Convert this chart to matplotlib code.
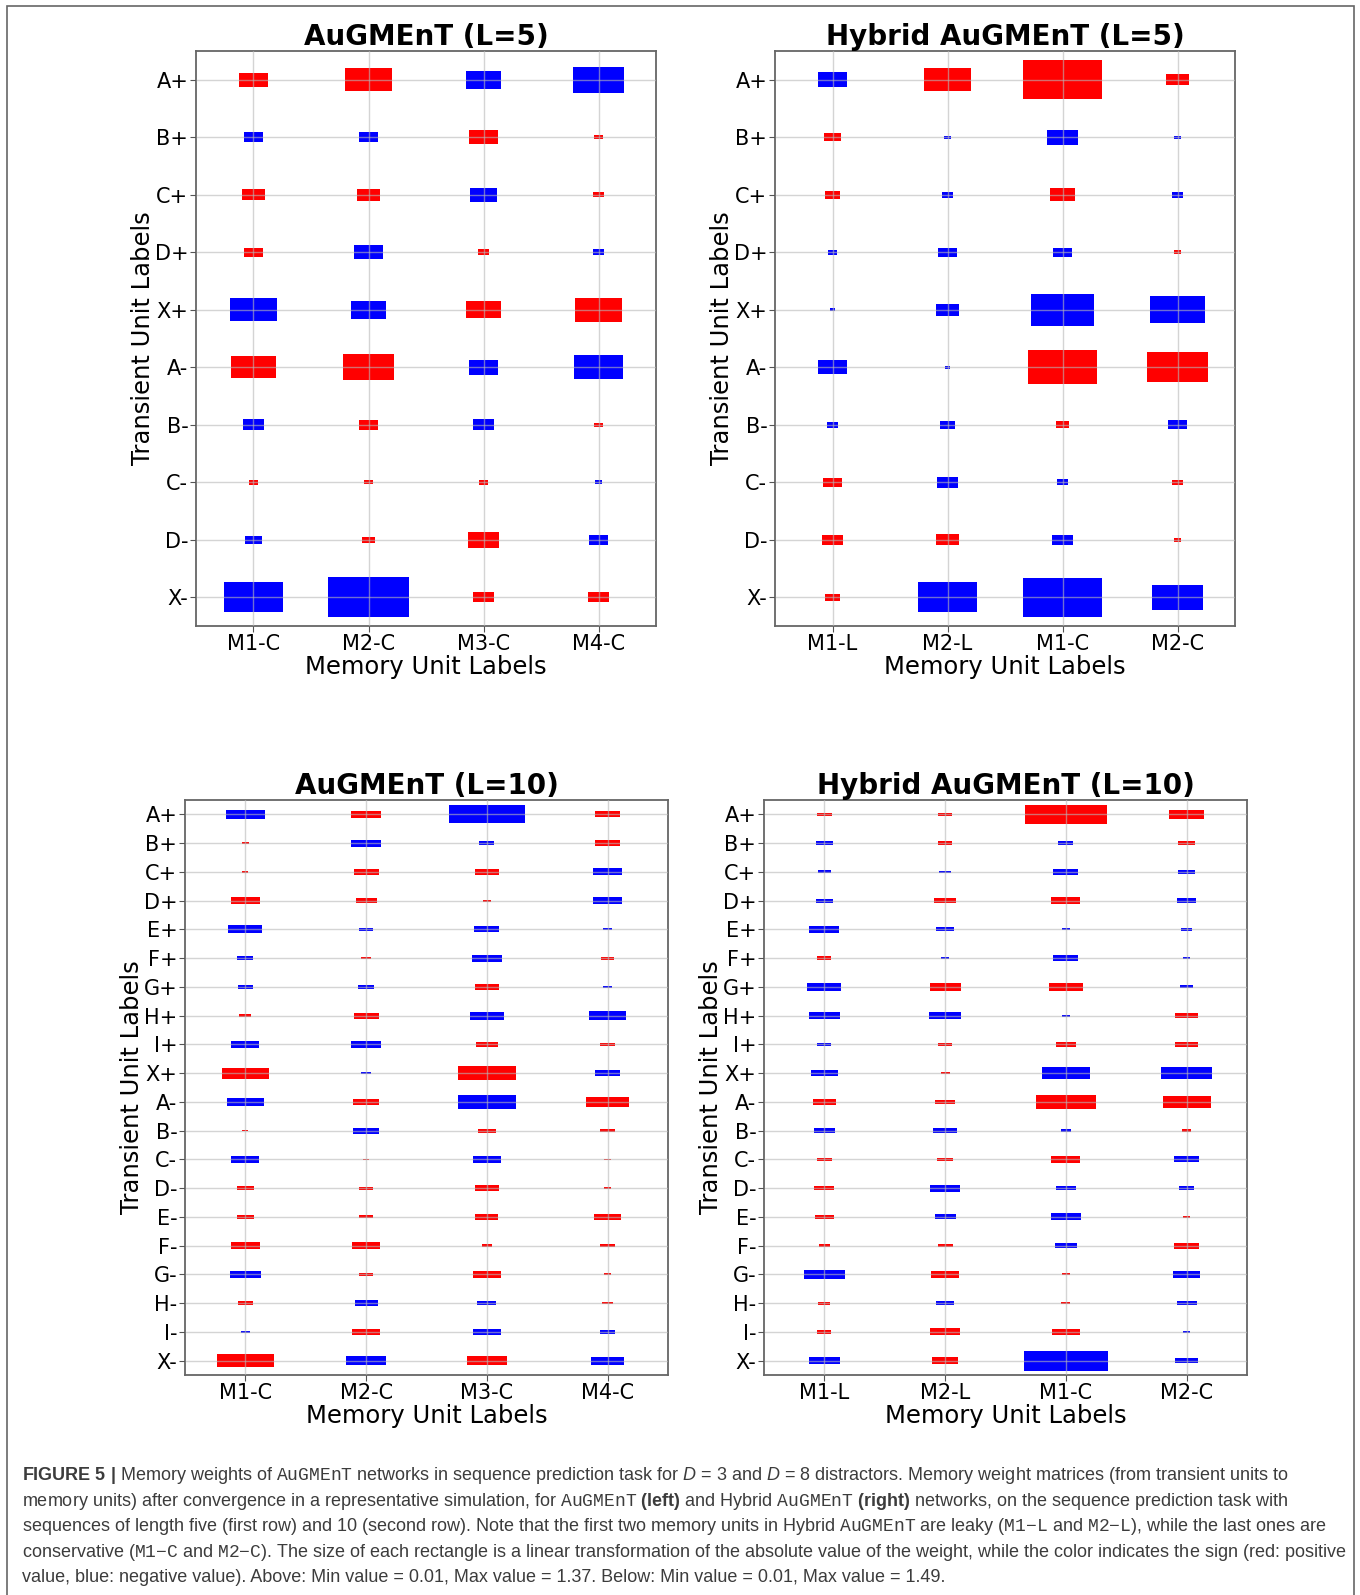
import matplotlib
import matplotlib.pyplot as plt
from matplotlib.patches import Rectangle

matplotlib.use("agg")

ROWS_5 = ["A+", "B+", "C+", "D+", "X+", "A-", "B-", "C-", "D-", "X-"]
ROWS_10 = ["A+", "B+", "C+", "D+", "E+", "F+", "G+", "H+", "I+", "X+",
           "A-", "B-", "C-", "D-", "E-", "F-", "G-", "H-", "I-", "X-"]
COLS_AUG = ["M1-C", "M2-C", "M3-C", "M4-C"]
COLS_HYB = ["M1-L", "M2-L", "M1-C", "M2-C"]

# signed weights (red > 0, blue < 0)
W_AUG_5 = [
    [0.42, 0.76, -0.56, -0.84],
    [-0.26, -0.26, 0.42, 0.06],
    [0.32, 0.33, -0.41, 0.09],
    [0.24, -0.43, 0.11, -0.11],
    [-0.75, -0.55, 0.54, 0.77],
    [0.72, 0.85, -0.45, -0.78],
    [-0.29, 0.26, -0.30, 0.06],
    [0.08, 0.06, 0.08, -0.04],
    [-0.20, 0.14, 0.47, -0.26],
    [-0.99, -1.37, 0.27, 0.27],
]
W_HYB_5 = [
    [-0.45, 0.75, 1.33, 0.32],
    [0.21, -0.02, -0.46, -0.02],
    [0.18, -0.12, 0.37, -0.12],
    [-0.07, -0.24, -0.24, 0.05],
    [-0.01, -0.34, -1.06, -0.89],
    [-0.43, -0.01, 1.16, 1.01],
    [-0.11, -0.18, 0.15, -0.24],
    [0.24, -0.30, -0.11, 0.10],
    [0.27, 0.31, -0.28, 0.05],
    [0.17, -0.98, -1.33, -0.82],
]
W_AUG_10 = [
    [-0.62, 0.46, -1.34, 0.38],
    [0.02, -0.46, -0.18, 0.37],
    [0.01, 0.37, 0.35, -0.45],
    [0.43, 0.29, 0.04, -0.43],
    [-0.54, -0.15, -0.37, -0.07],
    [-0.20, 0.09, -0.46, 0.15],
    [-0.17, -0.21, 0.35, -0.08],
    [0.12, 0.37, -0.53, -0.60],
    [-0.42, -0.46, 0.31, 0.19],
    [0.77, -0.09, 0.98, -0.38],
    [-0.58, 0.39, -0.99, 0.72],
    [0.01, -0.38, 0.23, 0.19],
    [-0.42, 0.02, -0.42, 0.02],
    [0.22, 0.15, 0.34, 0.03],
    [0.23, 0.15, 0.33, 0.40],
    [0.44, 0.42, 0.09, 0.17],
    [-0.47, 0.15, 0.42, 0.04],
    [0.17, -0.33, -0.25, 0.09],
    [-0.08, 0.41, -0.42, -0.19],
    [0.97, -0.66, 0.64, -0.52],
]
W_HYB_10 = [
    [0.19, 0.16, 1.44, 0.55],
    [-0.21, 0.16, -0.18, 0.21],
    [-0.13, -0.11, -0.37, -0.21],
    [-0.21, 0.32, 0.44, -0.25],
    [-0.46, -0.23, -0.06, -0.10],
    [0.16, -0.06, -0.37, -0.03],
    [-0.54, 0.48, 0.53, -0.13],
    [-0.48, -0.49, -0.06, 0.34],
    [-0.16, 0.16, 0.27, 0.34],
    [-0.40, 0.07, -0.81, -0.85],
    [0.33, 0.27, 1.04, 0.80],
    [-0.29, -0.34, -0.09, 0.08],
    [0.17, 0.19, 0.44, -0.36],
    [0.27, -0.47, -0.27, -0.17],
    [0.26, -0.29, -0.47, 0.03],
    [0.11, 0.18, -0.32, 0.38],
    [-0.66, 0.41, 0.06, -0.40],
    [0.12, -0.24, 0.07, -0.27],
    [0.16, 0.45, 0.41, -0.03],
    [-0.49, 0.40, -1.49, -0.32],
]
W_MIN = 0.01
W_MAX_5 = 1.37
W_MAX_10 = 1.49

CAPTION = [
    r"$\mathbf{FIGURE\ 5\ |}$ Memory weights of $\mathtt{AuGMEnT}$ networks in sequence "
    r"prediction task for $D$ = 3 and $D$ = 8 distractors. Memory weight matrices (from transient units to",
    r"memory units) after convergence in a representative simulation, for $\mathtt{AuGMEnT}$ "
    r"$\mathbf{(left)}$ and Hybrid $\mathtt{AuGMEnT}$ $\mathbf{(right)}$ networks, on the sequence prediction task with",
    r"sequences of length five (first row) and 10 (second row). Note that the first two memory units in "
    r"Hybrid $\mathtt{AuGMEnT}$ are leaky ($\mathtt{M1{-}L}$ and $\mathtt{M2{-}L}$), while the last ones are",
    r"conservative ($\mathtt{M1{-}C}$ and $\mathtt{M2{-}C}$). The size of each rectangle is a linear "
    r"transformation of the absolute value of the weight, while the color indicates the sign (red: positive",
    r"value, blue: negative value). Above: Min value = 0.01, Max value = 1.37. "
    r"Below: Min value = 0.01, Max value = 1.49.",
]

POS, NEG = "#ff0000", "#0000ff"
SIDE_MIN, SIDE_MAX = 0.05, 0.70
W_PX, H_PX = 1360, 1595


def plot_weights(ax, weights, rows, cols, w_max, title):
    """Hinton-style rectangles: side grows linearly with |w|, colour = sign."""
    for i, row in enumerate(weights):
        for j, w in enumerate(row):
            a = max(abs(w), W_MIN)
            side = SIDE_MIN + (SIDE_MAX - SIDE_MIN) * (a - W_MIN) / (w_max - W_MIN)
            ax.add_patch(Rectangle((j - side / 2, i - side / 2), side, side,
                                   facecolor=POS if w > 0 else NEG,
                                   edgecolor="none", zorder=1))
    ax.set_xlim(-0.5, len(cols) - 0.5)
    ax.set_ylim(len(rows) - 0.5, -0.5)
    ax.set_xticks(range(len(cols)))
    ax.set_xticklabels(cols)
    ax.set_yticks(range(len(rows)))
    ax.set_yticklabels(rows)
    ax.tick_params(labelsize=15, color="#555555", length=4, pad=1.5)
    ax.set_axisbelow(False)
    ax.grid(True, color="#b8b8b8", alpha=0.6, lw=1.0, zorder=2)
    for sp in ax.spines.values():
        sp.set_color("#666666")
        sp.set_linewidth(1.3)
    ax.set_xlabel("Memory Unit Labels", fontsize=17.5, labelpad=1)
    ax.set_ylabel("Transient Unit Labels", fontsize=17.5, labelpad=0)
    ax.set_title(title, fontsize=20, fontweight="bold", pad=3)


def px_box(x0, y0, x1, y1):
    return [x0 / W_PX, 1 - y1 / H_PX, (x1 - x0) / W_PX, (y1 - y0) / H_PX]


plt.rcParams["mathtext.fontset"] = "custom"
plt.rcParams["mathtext.rm"] = "Liberation Sans"
plt.rcParams["mathtext.it"] = "Liberation Sans:italic"
plt.rcParams["mathtext.bf"] = "Liberation Sans:bold"
plt.rcParams["mathtext.tt"] = "Liberation Mono"

fig = plt.figure(figsize=(W_PX / 100, H_PX / 100), dpi=100)

ax_tl = fig.add_axes(px_box(196, 51, 656, 626))
ax_tr = fig.add_axes(px_box(775, 51, 1235, 626))
ax_bl = fig.add_axes(px_box(185, 800, 668, 1375))
ax_br = fig.add_axes(px_box(764, 800, 1247, 1375))

plot_weights(ax_tl, W_AUG_5, ROWS_5, COLS_AUG, W_MAX_5, "AuGMEnT (L=5)")
plot_weights(ax_tr, W_HYB_5, ROWS_5, COLS_HYB, W_MAX_5, "Hybrid AuGMEnT (L=5)")
plot_weights(ax_bl, W_AUG_10, ROWS_10, COLS_AUG, W_MAX_10, "AuGMEnT (L=10)")
plot_weights(ax_br, W_HYB_10, ROWS_10, COLS_HYB, W_MAX_10, "Hybrid AuGMEnT (L=10)")

# frame round the whole figure
fig.patches.append(Rectangle((7 / W_PX, -0.01), (1354 - 7) / W_PX, 1 - 6 / H_PX + 0.01,
                             transform=fig.transFigure, fill=False,
                             edgecolor="#666666", lw=1.2))

for k, line in enumerate(CAPTION):
    fig.text(22 / W_PX, 1 - (1476 + 25.4 * k) / H_PX, line, ha="left", va="center",
             fontsize=13, color="#3c3c3c", family="Liberation Sans")

fig.savefig("out.png", dpi=100)
